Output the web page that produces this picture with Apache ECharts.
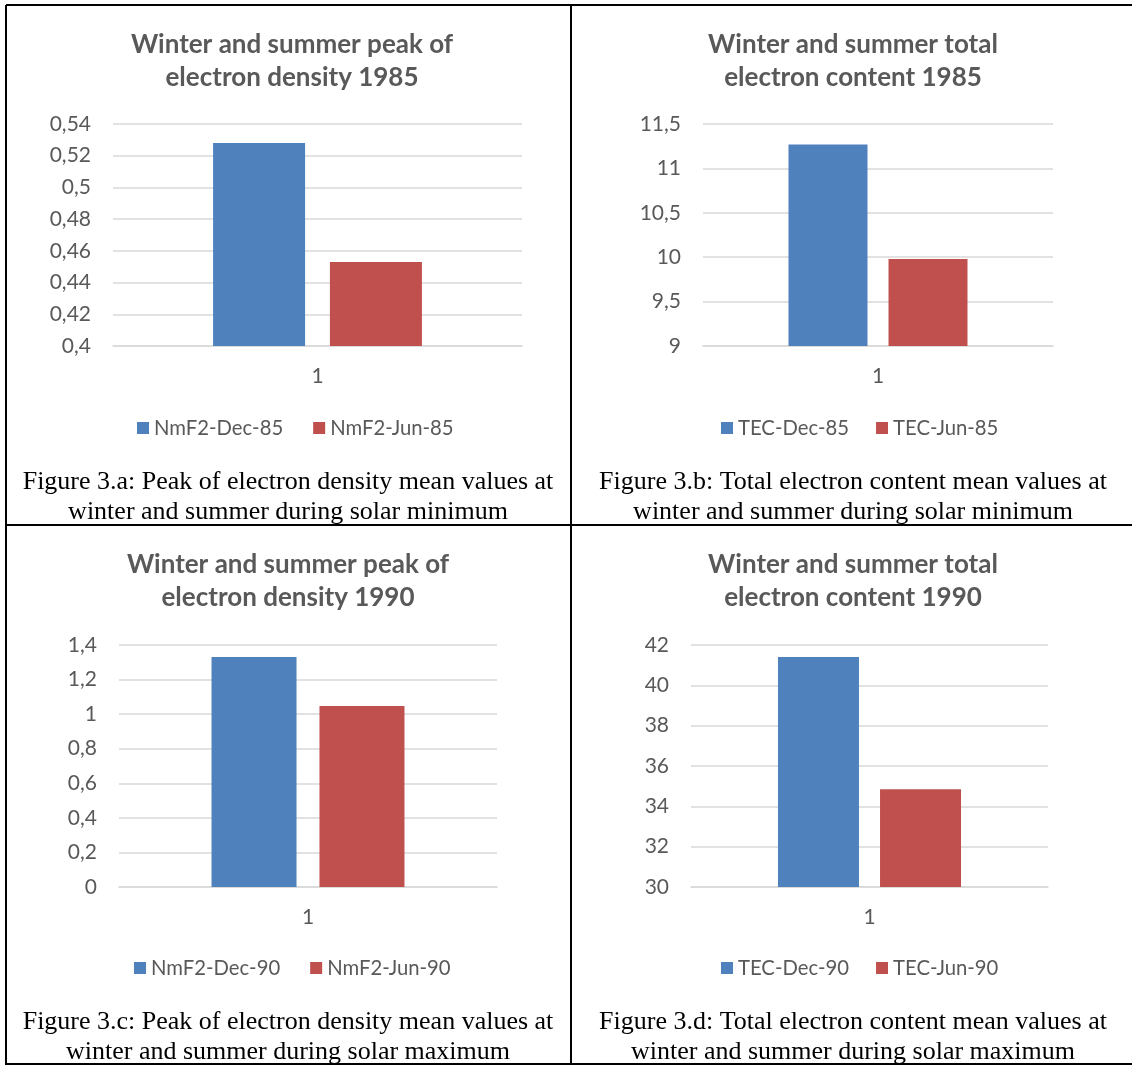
<!DOCTYPE html>
<html>
<head>
<meta charset="utf-8">
<script src="https://cdn.jsdelivr.net/npm/echarts@6/dist/echarts.min.js"></script>
<style>
  html, body { margin: 0; padding: 0; background: #ffffff; }
  #chart { width: 1132px; height: 1066px; }
</style>
</head>
<body>
<div id="chart"></div>
<script>
// ---- data ----
const categories = ['1'];
const nmf2Dec85 = [0.528];
const nmf2Jun85 = [0.453];
const tecDec85 = [11.27];
const tecJun85 = [9.98];
const nmf2Dec90 = [1.331];
const nmf2Jun90 = [1.047];
const tecDec90 = [41.4];
const tecJun90 = [34.85];

// y-axis ranges: [min, max, step]
const rangeA = [0.4, 0.54, 0.02];
const rangeB = [9, 11.5, 0.5];
const rangeC = [0, 1.4, 0.2];
const rangeD = [30, 42, 2];

const seriesNamesA = ['NmF2-Dec-85', 'NmF2-Jun-85'];
const seriesNamesB = ['TEC-Dec-85', 'TEC-Jun-85'];
const seriesNamesC = ['NmF2-Dec-90', 'NmF2-Jun-90'];
const seriesNamesD = ['TEC-Dec-90', 'TEC-Jun-90'];

const titles = [
  'Winter and summer peak of\nelectron density 1985',
  'Winter and summer total\nelectron content 1985',
  'Winter and summer peak of\nelectron density 1990',
  'Winter and summer total\nelectron content 1990'
];
const captions = [
  ['Figure 3.a: Peak of electron density mean values at', 'winter and summer during solar minimum'],
  ['Figure 3.b: Total electron content mean values at', 'winter and summer during solar minimum'],
  ['Figure 3.c: Peak of electron density mean values at', 'winter and summer during solar maximum'],
  ['Figure 3.d: Total electron content mean values at', 'winter and summer during solar maximum']
];

// ---- layout ----
const BLUE = '#4F81BD', RED = '#C0504D', GREY = '#595959', GRID = '#D9D9D9';
const FONT = 'Lato';
const panels = [
  { grid: { left: 113, top: 124, width: 409, height: 222 }, range: rangeA, dec: 2, data: [nmf2Dec85, nmf2Jun85], names: seriesNamesA, bw: 92, gap: '27%', tx: 292, ty: 28, lx: 137, ly: 418, lg: 30, cx: 288, cy: 482 },
  { grid: { left: 703, top: 124, width: 350, height: 222 }, range: rangeB, dec: 1, data: [tecDec85, tecJun85], names: seriesNamesB, bw: 79, gap: '26.6%', tx: 853, ty: 28, lx: 721, ly: 418, lg: 27, cx: 853, cy: 482 },
  { grid: { left: 119, top: 645, width: 378, height: 242 }, range: rangeC, dec: 1, data: [nmf2Dec90, nmf2Jun90], names: seriesNamesC, bw: 85, gap: '27%', tx: 288, ty: 548, lx: 134, ly: 958, lg: 30, cx: 288, cy: 1022 },
  { grid: { left: 691, top: 645, width: 357, height: 242 }, range: rangeD, dec: 0, data: [tecDec90, tecJun90], names: seriesNamesD, bw: 81, gap: '26%', tx: 853, ty: 548, lx: 721, ly: 958, lg: 27, cx: 853, cy: 1022 }
];

const option = {
  backgroundColor: '#ffffff',
  animation: false,
  title: [], grid: [], xAxis: [], yAxis: [], legend: [], series: [], graphic: []
};

panels.forEach((p, i) => {
  option.title.push({
    text: titles[i], left: p.tx, top: p.ty, textAlign: 'center', padding: 0,
    textStyle: { fontFamily: FONT, fontWeight: 'bold', fontSize: 26, color: GREY, lineHeight: 33 }
  });
  option.grid.push(Object.assign({ containLabel: false }, p.grid));
  option.xAxis.push({
    type: 'category', gridIndex: i, data: categories,
    axisLine: { lineStyle: { color: GRID, width: 1.5 } },
    axisTick: { show: false },
    axisLabel: { color: GREY, fontFamily: FONT, fontSize: 21, margin: 20 }
  });
  option.yAxis.push({
    type: 'value', gridIndex: i, min: p.range[0], max: p.range[1], interval: p.range[2],
    axisLine: { show: false }, axisTick: { show: false },
    splitLine: { lineStyle: { color: GRID, width: 1.5 } },
    axisLabel: {
      color: GREY, fontFamily: FONT, fontSize: 21, margin: 22,
      formatter: v => String(+v.toFixed(p.dec)).replace('.', ',')
    }
  });
  option.legend.push({
    data: p.names, left: p.lx, top: p.ly, padding: 0, itemGap: p.lg,
    icon: 'rect', itemWidth: 12, itemHeight: 12,
    textStyle: { color: GREY, fontFamily: FONT, fontSize: 20.3 }
  });
  p.data.forEach((d, k) => {
    option.series.push({
      type: 'bar', name: p.names[k], xAxisIndex: i, yAxisIndex: i, data: d,
      barWidth: p.bw, barGap: p.gap,
      itemStyle: { color: k === 0 ? BLUE : RED }
    });
  });
  captions[i].forEach((line, k) => {
    option.graphic.push({
      type: 'text', x: p.cx, y: p.cy + k * 30,
      style: { text: line, fill: '#000000', font: '26px "Liberation Serif"', textAlign: 'center', textVerticalAlign: 'middle' }
    });
  });
});

// table borders
const borderLines = [
  [6, 5, 1132, 5],
  [6, 5, 6, 1065],
  [6, 1064, 1132, 1064],
  [571, 5, 571, 1065],
  [6, 525, 1132, 525]
];
borderLines.forEach(l => {
  option.graphic.push({
    type: 'line', shape: { x1: l[0], y1: l[1], x2: l[2], y2: l[3] },
    style: { stroke: '#000000', lineWidth: 2 }
  });
});

const chart = echarts.init(document.getElementById('chart'));
chart.setOption(option);
</script>
</body>
</html>
